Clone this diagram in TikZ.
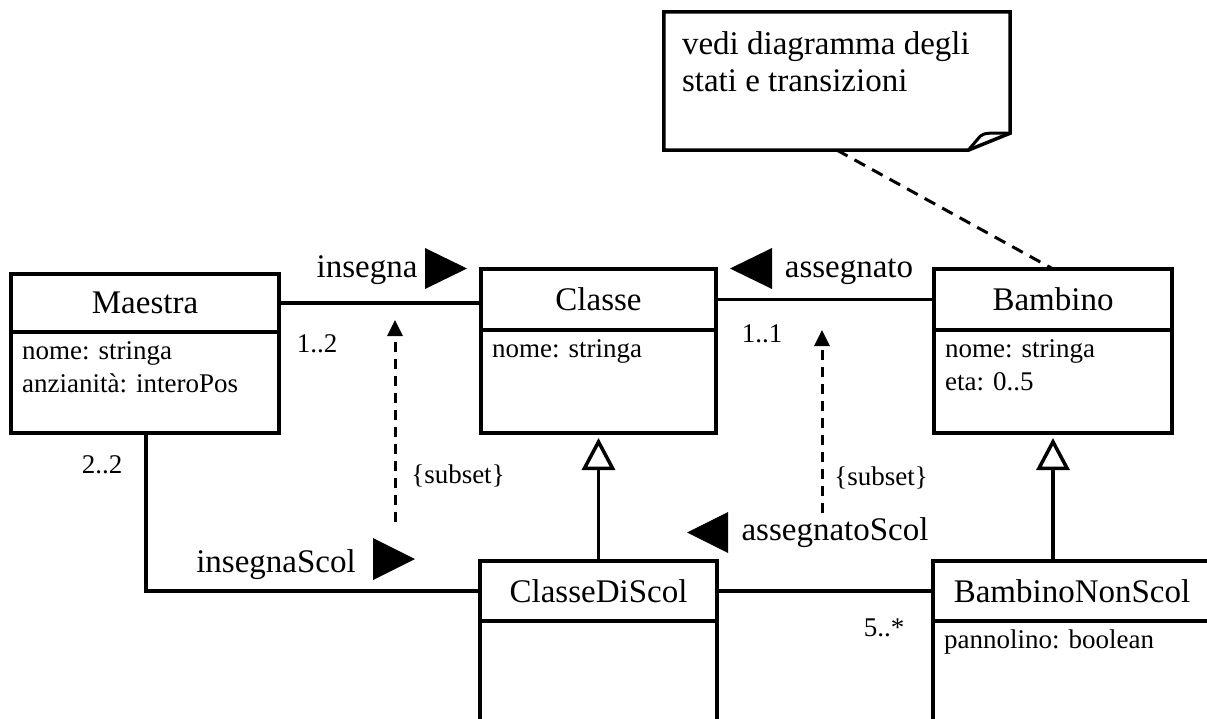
\documentclass[tikz,border=0pt]{standalone}
\usepackage{fontspec}
\setmainfont{Liberation Serif}
\usepackage{tikz}
\usetikzlibrary{positioning,arrows.meta}

\newcommand{\namefont}{\fontsize{33}{38}\selectfont}
\newcommand{\attrfont}{\fontsize{27}{33}\selectfont}

\tikzset{
	classname/.style={draw, line width=3.5pt, outer sep=0pt, inner sep=0pt, font=\namefont},
	classbody/.style={draw, line width=3.5pt, outer sep=0pt, inner sep=0pt},
	attr/.style={anchor=north west, align=left, inner xsep=11pt, inner ysep=9pt, font=\attrfont},
	notetext/.style={anchor=north west, align=left, inner xsep=18pt, inner ysep=20pt, font=\fontsize{33}{37}\selectfont},
	assoc/.style={font=\namefont, inner sep=0pt, anchor=base},
	mult/.style={font=\attrfont, inner sep=0pt, anchor=base},
	link/.style={line width=3.5pt},
	notelink/.style={line width=3pt, dash pattern=on 12pt off 8pt},
	subsetline/.style={line width=3pt, dash pattern=on 10pt off 7pt, -{Triangle[length=16pt,width=15pt]}},
	generalize/.style={line width=3.5pt, -{Triangle[open,length=32pt,width=33pt]}, shorten >=5pt},
}

\begin{document}
\begin{tikzpicture}[x=1pt,y=-1pt]
	\useasboundingbox (0,0) rectangle (1207,719);
	\clip (0,0) rectangle (1207,719);
	% classes
	\node[classname, minimum width=268pt, minimum height=58pt] (maestra) at (145,303) {Maestra};
	\node[classbody, minimum width=268pt, minimum height=101pt, below=0pt of maestra, label={[attr]north west:{nome: stringa\\anzianità: interoPos}}] (maestraAttr) {};
	\node[classname, minimum width=235pt, minimum height=61pt] (classe) at (598.5,299.5) {Classe};
	\node[classbody, minimum width=235pt, minimum height=103pt, below=0pt of classe, label={[attr]north west:{nome: stringa}}] (classeAttr) {};
	\node[classname, minimum width=238pt, minimum height=61pt] (bambino) at (1053,299.5) {Bambino};
	\node[classbody, minimum width=238pt, minimum height=103pt, below=0pt of bambino, label={[attr]north west:{nome: stringa\\eta: 0..5}}] (bambinoAttr) {};
	\node[classname, minimum width=237pt, minimum height=60pt] (classeDiScol) at (598.5,591) {ClasseDiScol};
	\node[classbody, minimum width=237pt, minimum height=150pt, below=0pt of classeDiScol] (classeDiScolAttr) {};
	\node[classname, minimum width=278pt, minimum height=60pt] (bambinoNonScol) at (1072,591) {BambinoNonScol};
	\node[classbody, minimum width=278pt, minimum height=150pt, below=0pt of bambinoNonScol, label={[attr]north west:{pannolino: boolean}}] (bambinoNonScolAttr) {};
	% note
	\node[minimum width=346pt, minimum height=138pt, inner sep=0pt, label={[notetext]north west:{vedi diagramma degli\\stati e transizioni}}] (note) at (837,81) {};
	\draw[line width=3.5pt] (note.north west) -- (note.north east) -- ([yshift=17pt]note.south east) -- ([xshift=-42pt]note.south east) -- (note.south west) -- cycle;
	\draw[line width=3pt] ([xshift=-42pt]note.south east) -- ([xshift=-30pt,yshift=14pt]note.south east) .. controls ([xshift=-26pt,yshift=18pt]note.south east) and ([xshift=-18pt,yshift=17pt]note.south east) .. ([yshift=17pt]note.south east);
	\draw[notelink] (note.south) -- (bambino.north);
	% associations
	\draw[link] (maestra.east) -- (maestra.east -| classe.west);
	\draw[link] (classe.east) -- (bambino.west);
	\draw[link] ([xshift=135pt]maestraAttr.south west) |- (classeDiScol.west);
	\draw[link] (classeDiScol.east) -- (bambinoNonScol.west);
	% generalizations
	\draw[generalize] (classeDiScol.north) -- (classeAttr.south);
	\draw[generalize] (bambinoAttr.south |- bambinoNonScol.north) -- (bambinoAttr.south);
	% subset constraints
	\coordinate (subsetAfrom) at (395,522);
	\coordinate (subsetAto) at (395,320);
	\coordinate (subsetBfrom) at (822,513);
	\coordinate (subsetBto) at (822,330);
	\draw[subsetline] (subsetAfrom) -- (subsetAto);
	\draw[subsetline] (subsetBfrom) -- (subsetBto);
	\node[mult] (subsetA) at (458,483) {\{subset\}};
	\node[mult] (subsetB) at (881,485) {\{subset\}};
	% association names
	\node[assoc] (insegna) at (367,277) {insegna};
	\fill (425,248) -- (467,268.5) -- (425,289) -- cycle;
	\node[assoc] (assegnato) at (849,277) {assegnato};
	\fill (772,248) -- (730,268.5) -- (772,289) -- cycle;
	\node[assoc] (insegnaScol) at (276,572) {insegnaScol};
	\fill (373,538) -- (415,559) -- (373,580) -- cycle;
	\node[assoc] (assegnatoScol) at (835,540) {assegnatoScol};
	\fill (728,512) -- (687,532.5) -- (728,553) -- cycle;
	% multiplicities
	\node[mult] (multMaestra) at (317,352) {1..2};
	\node[mult] (multClasseDiScol) at (102,473) {2..2};
	\node[mult] (multClasse) at (762,342) {1..1};
	\node[mult] (multBambinoNonScol) at (884,636) {5..*};
\end{tikzpicture}
\end{document}
